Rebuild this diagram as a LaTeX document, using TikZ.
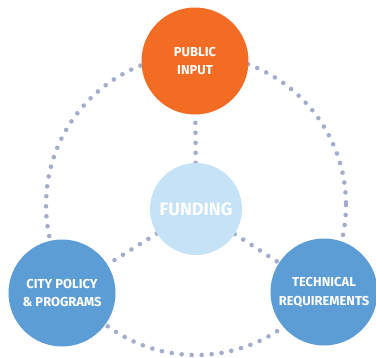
\documentclass[tikz,border=0pt]{standalone}
\usepackage{fontspec}
\setmainfont{Fira Sans}
\usepackage{tikz}
\usetikzlibrary{positioning}
\usetikzlibrary{backgrounds}
\definecolor{DotColor}{RGB}{166,172,203}
\definecolor{InputColor}{RGB}{242,108,36}
\definecolor{FundColor}{RGB}{197,226,247}
\definecolor{BlueColor}{RGB}{93,157,214}
\tikzstyle{bigball} = [circle, minimum size=107bp, inner sep=0pt, text=white, align=center, font=\bfseries\fontsize{13}{19}\selectfont]
\tikzstyle{dotline} = [DotColor, line width=4.6bp, line cap=round, dash pattern=on 0pt off 10bp]

\begin{document}
\begin{tikzpicture}[x=1bp, y=-1bp]
    \useasboundingbox (0,0) rectangle (376,358);
    \node[bigball, fill=InputColor] (input) at (195,61) {PUBLIC\\INPUT};
    \node[bigball, fill=BlueColor] (policy) at (62,293) {CITY POLICY\\\& PROGRAMS};
    \node[bigball, fill=BlueColor] (tech) at (324,292) {TECHNICAL\\REQUIREMENTS};
    \node[circle, fill=FundColor, minimum size=92bp, inner sep=0pt, text=white, font=\bfseries\fontsize{18}{20}\selectfont] (funding) at (196,209) {FUNDING};
    % dotted ring and spokes behind the balls
    \begin{scope}[on background layer]
        \draw[dotline] (196,205) circle (150);
        \foreach \n in {input, policy, tech} {
            \draw[dotline] (funding) -- (\n);
        }
    \end{scope}
\end{tikzpicture}
\end{document}
